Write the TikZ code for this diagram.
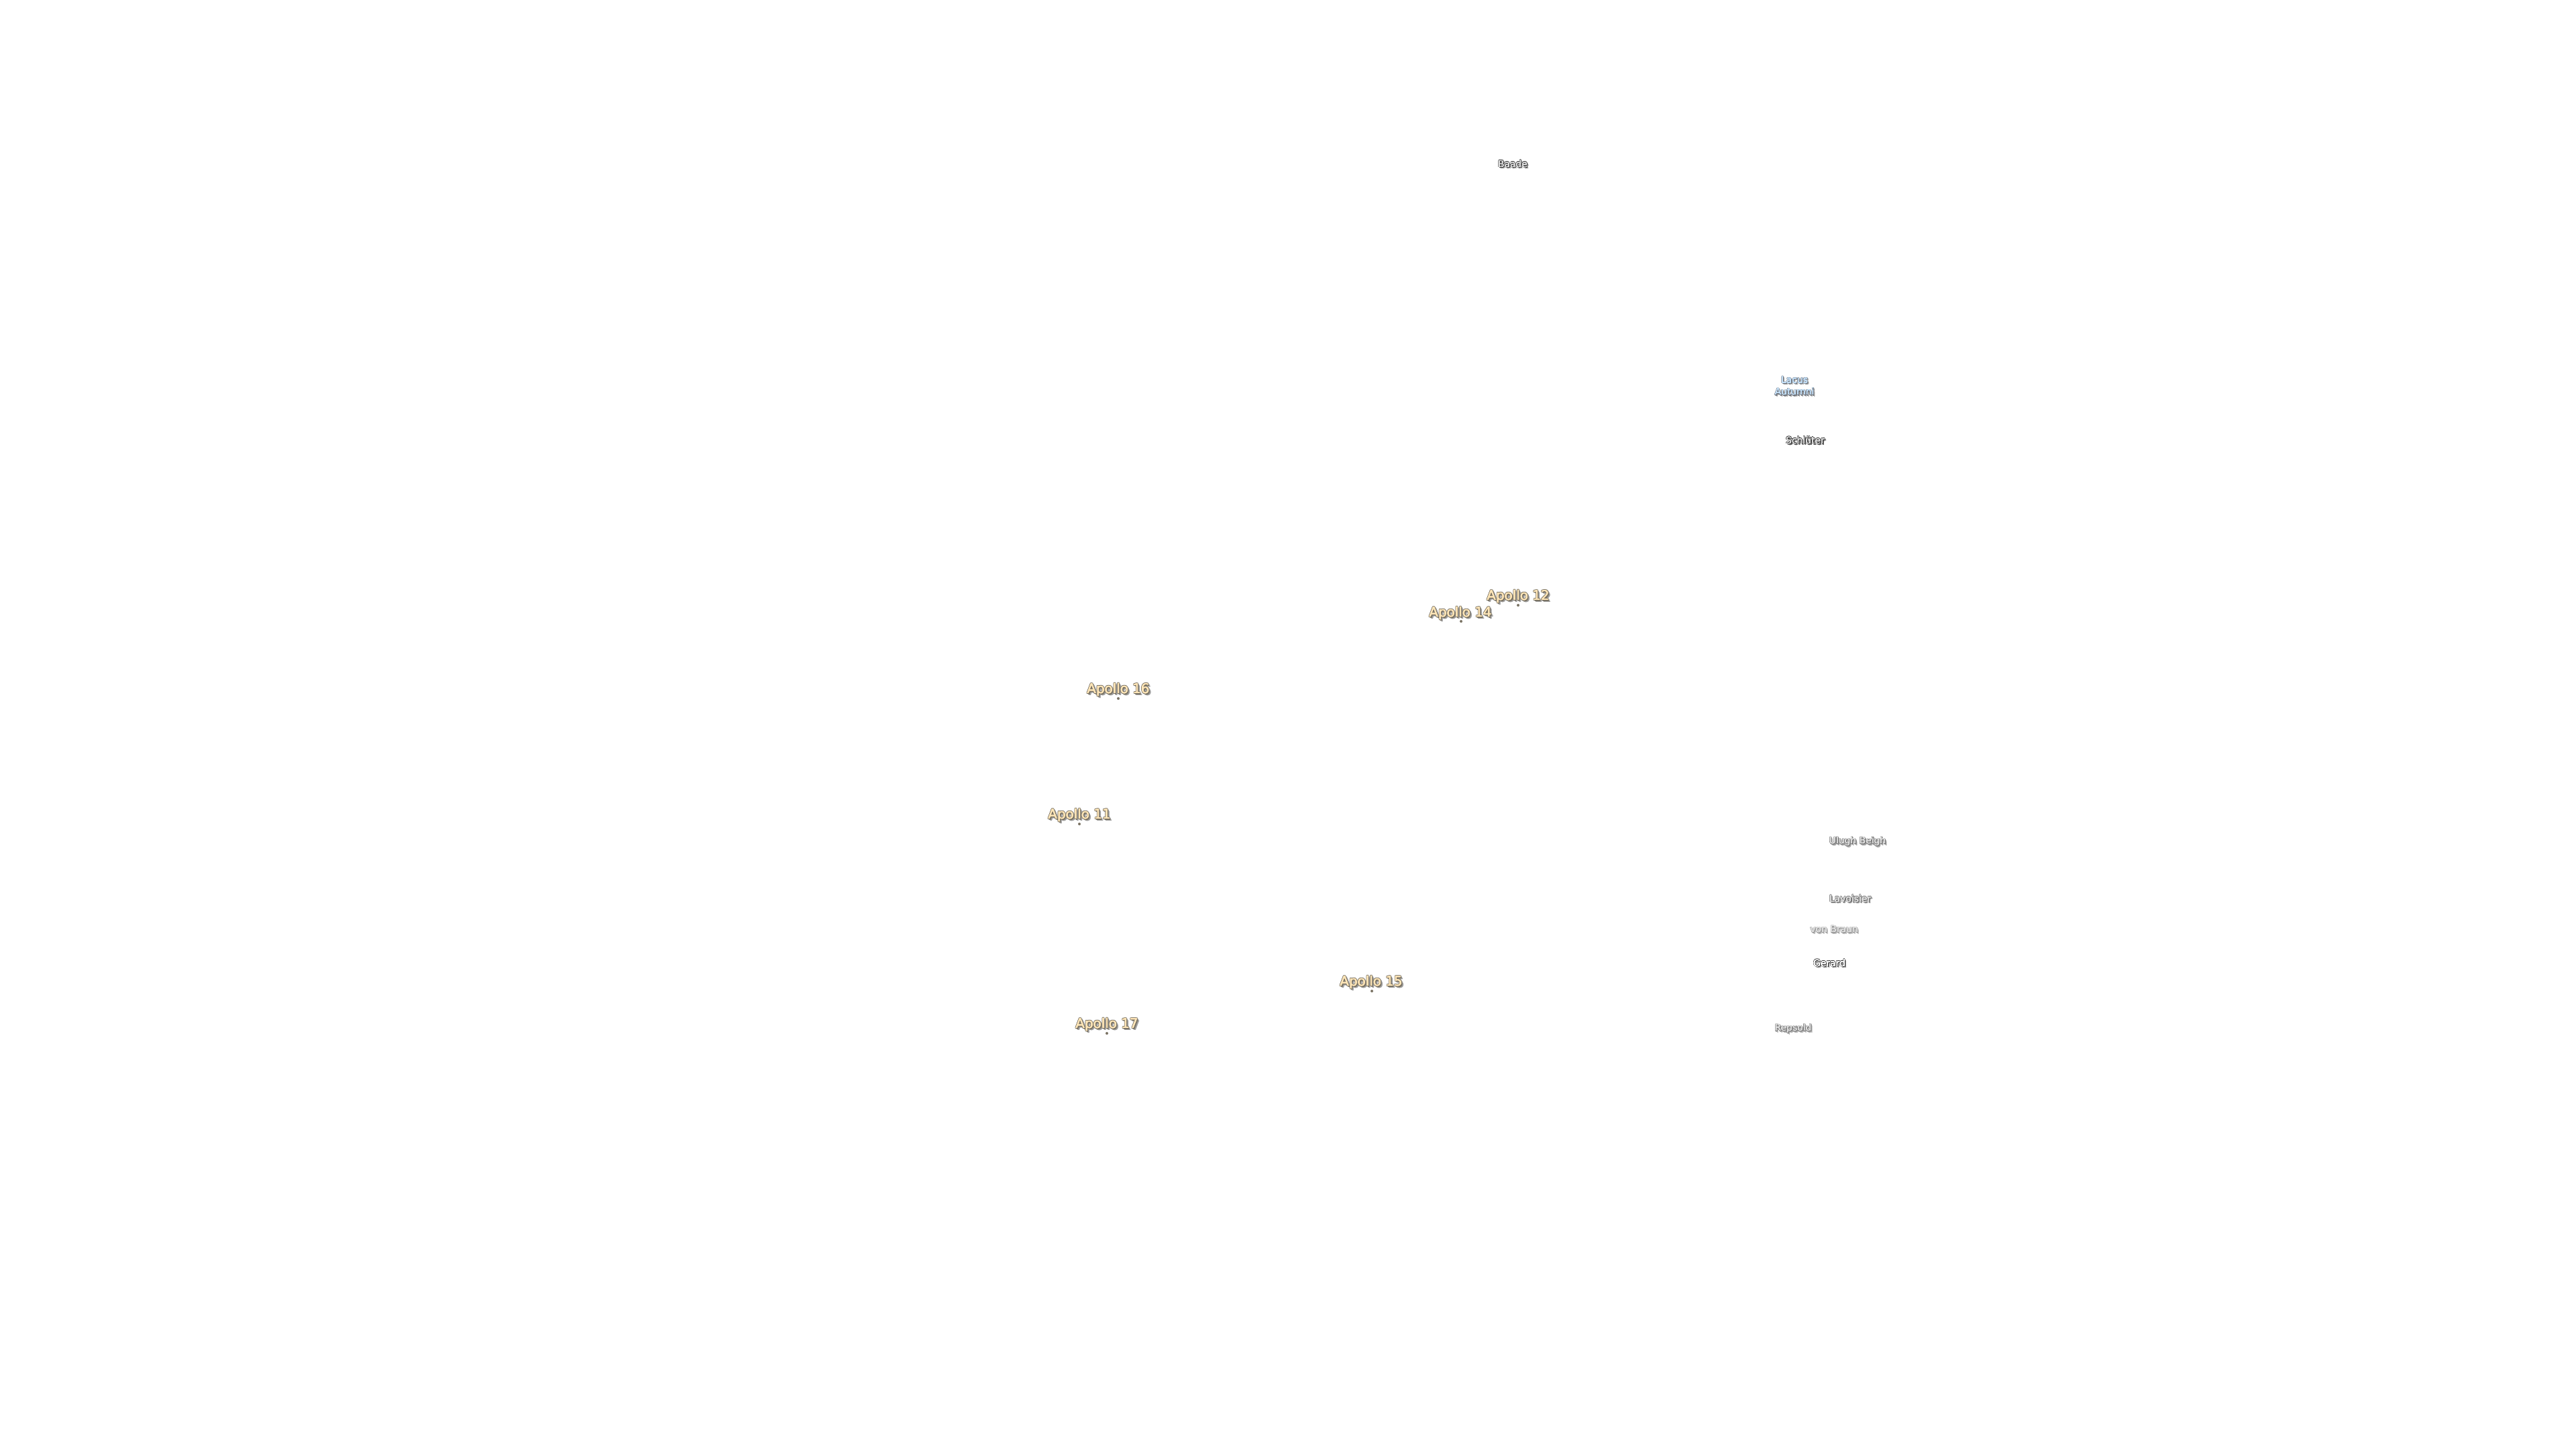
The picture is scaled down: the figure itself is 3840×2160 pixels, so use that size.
\documentclass[tikz,border=0pt]{standalone}
\usepackage{fontspec}
\setmainfont{DejaVu Sans}
\usetikzlibrary{positioning}

\definecolor{apollofill}{HTML}{FFE6B8}
\definecolor{apolloedge}{HTML}{7A7364}
\definecolor{lacusfill}{HTML}{C4E0F8}
\definecolor{lacusedge}{HTML}{6A6F78}
\definecolor{craterfill}{HTML}{E0E0E0}
\definecolor{craterdark}{HTML}{2E2E2E}
\definecolor{cratergray}{HTML}{707070}
\definecolor{softshadow}{HTML}{A0A0A0}

% one layer of a label, moved by x and y
\newcommand{\labellayer}[4]{\rlap{\kern#1\raisebox{#2}[0pt][0pt]{\textcolor{#3}{#4}}}}
% label text: soft shadow, edge, fill
\newcommand{\haloed}[4]{%
  \foreach \dx/\dy in {.17/-.17,.13/-.13,.06/-.12,.12/-.06}
    {\labellayer{\dx em}{\dy em}{#1}{#4}}%
  \foreach \dx/\dy in {.05/0,-.05/0,0/.05,0/-.05,.04/.04,-.04/.04,.04/-.04,-.04/-.04,.08/-.08}
    {\labellayer{\dx em}{\dy em}{#2}{#4}}%
  \foreach \dx/\dy in {.012/0,-.012/0,0/.012}
    {\labellayer{\dx em}{\dy em}{#3}{#4}}%
  \textcolor{#3}{#4}}

\tikzset{%
  % Specifications for style of nodes:
  base1/.style = {inner sep=0pt, outer sep=0pt, align=center},
  bigsite/.style = {base1, font=\fontsize{5.65pt}{6.8pt}\selectfont},
  smallsite/.style = {base1, font=\fontsize{3.95pt}{5.1pt}\selectfont},
  sitedot/.style = {circle, fill=apolloedge, inner sep=0pt, minimum size=.4mm}
}

\begin{document}
\begin{tikzpicture}[x=.01cm, y=-.01cm]
  \useasboundingbox (0,0) rectangle (3840,2160);
  % Apollo landing sites
  \node (apollotwelve)   [bigsite] at (2263,889)  {\haloed{softshadow}{apolloedge}{apollofill}{Apollo 12}};
  \node (apollofourteen) [bigsite] at (2177,914)  {\haloed{softshadow}{apolloedge}{apollofill}{Apollo 14}};
  \node (apollosixteen)  [bigsite] at (1667,1028) {\haloed{softshadow}{apolloedge}{apollofill}{Apollo 16}};
  \node (apolloeleven)   [bigsite] at (1609,1215) {\haloed{softshadow}{apolloedge}{apollofill}{Apollo 11}};
  \node (apollofifteen)  [bigsite] at (2044,1464) {\haloed{softshadow}{apolloedge}{apollofill}{Apollo 15}};
  \node (apolloseventeen)[bigsite] at (1650,1527) {\haloed{softshadow}{apolloedge}{apollofill}{Apollo 17}};
  \node (dottwelve)    [sitedot] at (2263,902)  {};
  \node (dotfourteen)  [sitedot] at (2178,926)  {};
  \node (dotsixteen)   [sitedot] at (1667,1041) {};
  \node (doteleven)    [sitedot] at (1609,1228) {};
  \node (dotfifteen)   [sitedot] at (2045,1477) {};
  \node (dotseventeen) [sitedot] at (1650,1540) {};
  % far side names
  \node (baade)    [smallsite] at (2255,244)  {\haloed{softshadow}{craterdark}{craterfill}{Baade}};
  \node (lacus)    [smallsite] at (2675,575)  {\haloed{softshadow}{lacusedge}{lacusfill}{Lacus}\\\haloed{softshadow}{lacusedge}{lacusfill}{Autumni}};
  \node (schluter) [smallsite] at (2691,656)  {\haloed{cratergray}{craterdark}{craterfill}{Schlüter}};
  \node (ulugh)    [smallsite] at (2769,1254) {\haloed{softshadow}{cratergray}{craterfill}{Ulugh Beigh}};
  \node (lavoisier)[smallsite] at (2758,1339) {\haloed{softshadow}{cratergray}{craterfill}{Lavoisier}};
  \node (vonbraun) [smallsite] at (2734,1385) {\haloed{softshadow!60}{cratergray!70}{craterfill}{von Braun}};
  \node (gerard)   [smallsite] at (2727,1435) {\haloed{softshadow}{craterdark}{white}{Gerard}};
  \node (repsold)  [smallsite] at (2673,1533) {\haloed{softshadow!80}{cratergray}{craterfill}{Repsold}};
\end{tikzpicture}
\end{document}
